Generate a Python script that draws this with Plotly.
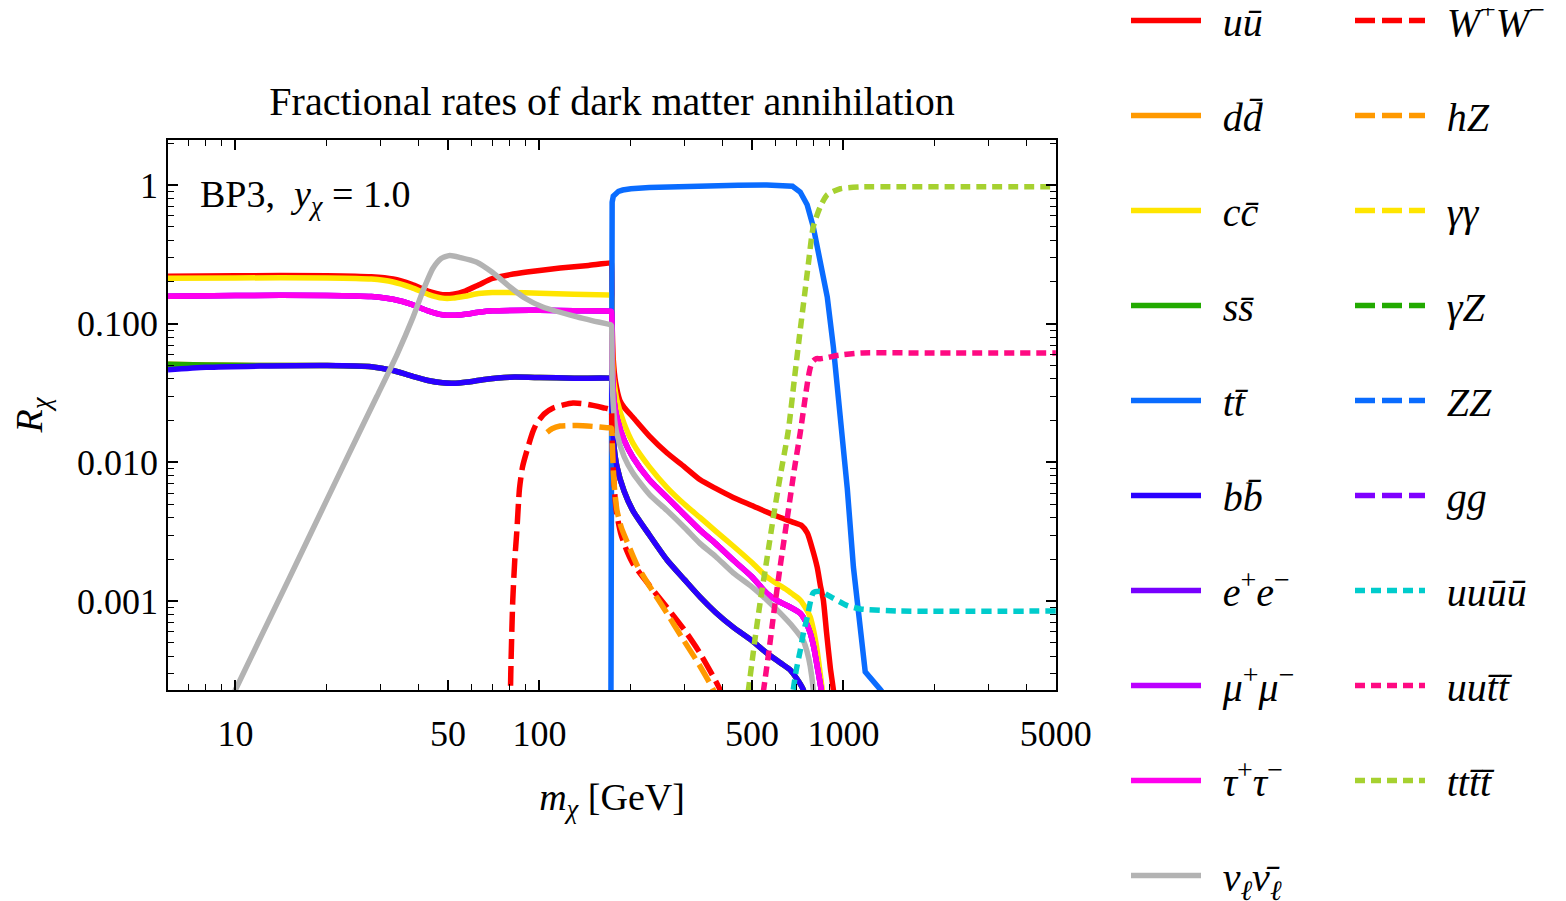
import math
import plotly.graph_objects as go

FONT = "Liberation Serif"

# ---------------- data (m_chi in GeV, R_chi fractions) ----------------
x_uu = [6, 10, 20, 28, 33, 38, 43, 48, 52, 57, 63, 70, 80, 91, 117, 145, 172, 172.6, 173.5, 175,
        178, 184, 190, 203, 230, 263, 300, 338, 380, 434, 500, 588, 684, 730, 761, 790, 820, 840, 859, 880,
        906, 927, 960]
y_uu = [.220, .222, .222, .218, .210, .192, .172, .162, .163, .172, .190, .212, .226, .236, .252, .263, .274, .272, .10, .055,
        .038, .028, .025, .0212, .0155, .0117, .0093, .0075, .0065, .0056, .0049, .0042, .0037, .0035, .0031, .0024, .00176, .0013, .00102, .0006,
        .00033, .00023, .0001]

x_cc = [6, 10, 20, 28, 33, 38, 43, 48, 52, 57, 63, 70, 80, 100, 130, 172, 172.6, 173.5, 175, 178,
        180, 190, 203, 230, 263, 300, 338, 380, 434, 500, 560, 610, 654, 690, 721, 750, 778, 800, 820, 836,
        852, 880]
y_cc = [.213, .214, .214, .210, .200, .182, .163, .153, .153, .158, .165, .168, .168, .166, .163, .161, .160, .07, .042, .032,
        .028, .019, .0138, .0093, .0066, .005, .004, .0032, .0025, .0019, .0015, .00132, .0012, .0011, .00102, .0009, .00077, .0006, .00044, .00032,
        .00023, .0001]

x_tau = [6, 10, 20, 28, 33, 38, 43, 48, 52, 57, 63, 70, 100, 130, 172, 172.6, 173.5, 176, 180, 190,
         203, 230, 263, 300, 338, 380, 434, 500, 560, 610, 654, 721, 750, 778, 800, 820, 845, 870]
y_tau = [.158, .160, .160, .157, .150, .138, .124, .116, .115, .117, .121, .124, .125, .124, .123, .122, .05, .028, .021, .0145,
         .0109, .0075, .0056, .0042, .00325, .0026, .00198, .0015, .00114, .001, .00093, .00082, .00072, .00059, .00046, .00034, .00023, .0001]

x_nu = [9.3, 10, 15, 20, 25.6, 29.2, 34, 38.3, 41.5, 44.6, 47.5, 50.7, 55, 62, 70, 80, 90, 102.6, 133, 150,
        172, 172.6, 173.5, 176, 180, 190, 203, 230, 263, 300, 338, 380, 434, 500, 560, 620, 684, 738, 760, 778,
        796, 815]
y_nu = [1.6e-4, 2.3e-4, 1.45e-3, 5.4e-3, .0166, .030, .060, .11, .175, .25, .295, .31, .30, .279, .235, .184, .152, .132, .112, .105,
        .098, .097, .04, .022, .016, .011, .0084, .0059, .0045, .0034, .0026, .0021, .0016, .00127, .00102, .00082, .00065, .00052, .00043, .00034,
        .00023, .0001]

x_bb = [6, 8, 12, 20, 28, 33, 38, 43, 48, 52, 58, 65, 80, 100, 130, 172, 172.6, 173.5, 176, 180,
        190, 203, 230, 263, 300, 338, 380, 434, 500, 562, 620, 668, 738, 770]
y_bb = [.0465, .0485, .0495, .050, .049, .046, .042, .039, .0375, .0372, .038, .0395, .0412, .041, .0405, .0405, .0403, .025, .013, .0093,
        .0062, .0045, .003, .00198, .00143, .00107, .00083, .00065, .00052, .00042, .00036, .00032, .00023, .00012]

x_ss = [6, 8, 12, 20, 28, 33, 38, 43, 48, 52, 58, 65, 80, 100, 130, 172, 172.6, 173.5, 176, 180,
        190, 203, 230, 263, 300, 338, 380, 434, 500, 562, 620, 668, 738, 770]
y_ss = [.0510, .0505, .0500, .050, .049, .046, .042, .039, .0375, .0372, .038, .0395, .0412, .041, .0405, .0405, .0403, .025, .013, .0093,
        .0062, .0045, .003, .00198, .00143, .00107, .00083, .00065, .00052, .00042, .00036, .00032, .00023, .00012]

x_tt = [171.8, 172, 172.3, 172.8, 173.5, 175, 178, 182, 188, 200, 230, 280, 350, 450, 560, 640, 680, 721, 760, 796,
        840, 885, 927, 977, 1030, 1079, 1120, 1164, 1180, 1325, 1500]
y_tt = [1e-4, .01, .25, .6, .75, .83, .87, .9, .92, .94, .96, .975, .985, .995, 1.0, 1.0, .98, .89, .72, .50,
        .27, .156, .068, .0226, .0065, .00176, .0008, .00036, .00031, .00023, .00016]

x_ww = [79.9, 80.5, 81.7, 83, 84.2, 86, 88, 91, 95, 98, 104, 111, 120, 129, 140, 150, 162, 172, 173, 174,
        176, 179, 185, 194, 203, 230, 263, 300, 338, 393, 440]
y_ww = [1e-4, 3e-4, .001, .002, .0031, .0065, .0093, .0122, .0165, .0192, .0225, .0247, .026, .0268, .0265, .0258, .0248, .0239, .02, .012,
        .007, .0045, .0031, .0023, .00187, .0013, .0009, .00062, .00042, .00023, .00012]

x_hz = [106, 110, 117, 133, 150, 167, 172, 172.8, 174, 176, 180, 186, 194, 210, 231, 260, 297, 335, 373, 420]
y_hz = [.0165, .0175, .0183, .0185, .0182, .0178, .0177, .0175, .012, .0071, .0045, .0034, .0027, .0018, .00127, .00085, .00053, .00035, .00023, .00012]

x_4u = [684, 700, 721, 740, 761, 796, 840, 880, 927, 1030, 1138, 1500, 5000]
y_4u = [2.3e-4, 3.2e-4, 4.4e-4, 6e-4, 7.7e-4, .00115, .00118, .00112, .00105, .00093, .00088, .00085, .00085]

x_uutt = [545, 570, 588, 620, 654, 690, 721, 745, 765, 780, 796, 815, 840, 885, 950, 1138, 2000, 5000]
y_uutt = [2.2e-4, .00045, .00077, .0018, .004, .009, .0163, .027, .04, .049, .054, .056, .056, .057, .059, .0615, .0615, .0615]

x_4t = [486, 510, 533, 560, 588, 620, 659, 690, 721, 745, 767, 796, 840, 885, 977, 1138, 1500, 2500, 5000]
y_4t = [2.2e-4, 5e-4, .001, .002, .004, .008, .017, .04, .09, .16, .27, .5, .7, .85, .94, .97, .97, .97, .97]

# channels that stay below the plotted range
x_low = [6, 5000]
y_low = [1e-6, 1e-6]

x_tickvals = [10, 50, 100, 500, 1000, 5000]
x_ticktext = ["10", "50", "100", "500", "1000", "5000"]
y_tickvals = [1, 0.1, 0.01, 0.001]
y_ticktext = ["1", "0.100", "0.010", "0.001"]

# ---------------- styling ----------------
M = "\u0304"            # combining macron
SP = "\u00a0\u2006"     # gap between legend line and label
DASH = "20px,7px"
DOT = "10px,6px"
series = [
    ("<i>uu" + M + "</i>", x_uu, y_uu, "#FF0000", "solid", "legend", "spline"),
    ("<i>dd" + M + "</i>", x_ss, y_ss, "#FF9900", "solid", "legend", "spline"),
    ("<i>cc" + M + "</i>", x_cc, y_cc, "#FFE500", "solid", "legend", "spline"),
    ("<i>ss" + M + "</i>", x_ss, y_ss, "#22AA00", "solid", "legend", "spline"),
    ("<i>tt" + M + "</i>", x_tt, y_tt, "#0A6CFF", "solid", "legend", "linear"),
    ("<i>bb" + M + "</i>", x_bb, y_bb, "#2A00FF", "solid", "legend", "spline"),
    ("<i>e</i><sup>+</sup><i>e</i><sup>\u2212</sup>", x_tau, y_tau, "#7700FF", "solid", "legend", "spline"),
    ("<i>\u03bc</i><sup>+</sup><i>\u03bc</i><sup>\u2212</sup>", x_tau, y_tau, "#BB00FF", "solid", "legend", "spline"),
    ("<i>\u03c4</i><sup>+</sup><i>\u03c4</i><sup>\u2212</sup>", x_tau, y_tau, "#FF00EE", "solid", "legend", "spline"),
    ("<i>\u03bd</i><sub><i>\u2113</i></sub><i>\u03bd" + M + "</i><sub><i>\u2113</i></sub>", x_nu, y_nu, "#B3B3B3", "solid", "legend", "spline"),
    ("<i>W</i><sup>+</sup><i>W</i><sup>\u2212</sup>", x_ww, y_ww, "#FF0000", DASH, "legend2", "spline"),
    ("<i>hZ</i>", x_hz, y_hz, "#FF9900", DASH, "legend2", "spline"),
    ("<i>\u03b3\u03b3</i>", x_low, y_low, "#FFE500", DASH, "legend2", "linear"),
    ("<i>\u03b3Z</i>", x_low, y_low, "#22AA00", DASH, "legend2", "linear"),
    ("<i>ZZ</i>", x_low, y_low, "#0A6CFF", DASH, "legend2", "linear"),
    ("<i>gg</i>", x_low, y_low, "#7F00FF", DASH, "legend2", "linear"),
    ("<i>uuu" + M + "u" + M + "</i>", x_4u, y_4u, "#00CCCC", DOT, "legend2", "spline"),
    ("<i>uut" + M + "t" + M + "</i>", x_uutt, y_uutt, "#FF0A82", DOT, "legend2", "spline"),
    ("<i>ttt" + M + "t" + M + "</i>", x_4t, y_4t, "#A6D130", DOT, "legend2", "spline"),
]

fig = go.Figure()
for i, (name, xs, ys, color, dash, leg, shape) in enumerate(series):
    line = dict(color=color, width=5.5, dash=dash, shape=shape)
    if shape == "spline":
        line["smoothing"] = 0.6
    fig.add_trace(go.Scatter(
        x=xs, y=ys, mode="lines", name=SP + name, line=line,
        legend=leg, legendgroup="g%d" % i,
    ))

x_minor = [d * 10 ** e for e in range(0, 4) for d in range(2, 10)
           if 6 <= d * 10 ** e <= 5000 and d * 10 ** e not in x_tickvals]
y_minor = [d * 10.0 ** e for e in range(-4, 1) for d in range(2, 10)
           if 2e-4 <= d * 10.0 ** e <= 2.1]

tickfont = dict(family=FONT, size=36, color="#000000")
axis_common = dict(
    type="log", showgrid=False, zeroline=False, automargin=False,
    showline=True, linecolor="#000000", linewidth=1.5, mirror="ticks",
    ticks="inside", ticklen=10, tickwidth=1.5, tickcolor="#000000",
    tickmode="array", tickfont=tickfont,
)

# the page body adds an 8 px offset; margins below compensate
legend_common = dict(
    xanchor="left", xref="paper", yanchor="top", yref="paper",
    y=1 + 152 / 550, traceorder="grouped", tracegroupgap=40, itemwidth=70,
    font=dict(family=FONT, size=40, color="#000000"),
    bgcolor="rgba(0,0,0,0)", borderwidth=0, maxheight=1200,
)

fig.update_layout(
    width=1566, height=901,
    paper_bgcolor="white", plot_bgcolor="white",
    margin=dict(l=160, r=518, t=132, b=219, autoexpand=False),
    font=dict(family=FONT, size=36, color="#000000"),
    title=dict(text="Fractional rates of dark matter annihilation",
               font=dict(family=FONT, size=40, color="#000000"),
               x=0.5, xref="paper", xanchor="center",
               y=1 - 93 / 901, yref="container", yanchor="middle"),
    xaxis=dict(**axis_common,
               range=[math.log10(6), math.log10(5000) + 0.0005],
               tickvals=x_tickvals, ticktext=x_ticktext,
               ticklabelstandoff=11,
               minor=dict(tickmode="array", tickvals=x_minor, ticks="inside",
                          ticklen=6, tickwidth=1.3, tickcolor="#000000", showgrid=False),
               title=dict(text="<i>m</i><sub><i>\u03c7</i></sub> [GeV]",
                          font=dict(family=FONT, size=38), standoff=30)),
    yaxis=dict(**axis_common,
               range=[-3.64, 0.3245],
               tickvals=y_tickvals, ticktext=y_ticktext,
               ticklabelstandoff=1,
               minor=dict(tickmode="array", tickvals=y_minor, ticks="inside",
                          ticklen=6, tickwidth=1.3, tickcolor="#000000", showgrid=False),
               title=dict(text="<i>R</i><sub><i>\u03c7</i></sub>",
                          font=dict(family=FONT, size=38), standoff=32)),
    legend=dict(**legend_common, x=(1126 - 168) / 888),
    legend2=dict(**legend_common, x=(1350 - 168) / 888),
    annotations=[dict(text="BP3,  <i>y</i><sub><i>\u03c7</i></sub> = 1.0",
                      x=(198 - 168) / 888, xref="paper", xanchor="left",
                      y=1 - (197 - 140) / 550, yref="paper", yanchor="middle",
                      showarrow=False, font=dict(family=FONT, size=38, color="#000000"))],
)

fig.write_html("out.html")
